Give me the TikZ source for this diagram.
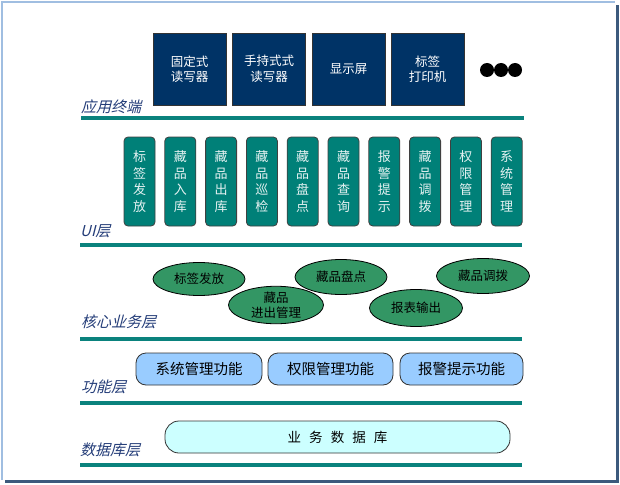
\documentclass[tikz,border=0pt]{standalone}
\usepackage{fontspec}
\setmainfont{Noto Sans CJK SC}
\newfontfamily\cjkit{Noto Sans CJK SC}[FakeSlant=0.25]
\usetikzlibrary{shapes.geometric}
\definecolor{navybox}{RGB}{0,51,102}
\definecolor{tealbox}{RGB}{0,128,120}
\definecolor{greenell}{RGB}{51,150,100}
\definecolor{funcblue}{RGB}{153,204,255}
\definecolor{dbcyan}{RGB}{204,255,255}
\definecolor{layerline}{RGB}{10,130,125}
\definecolor{labelcol}{RGB}{35,60,120}
\definecolor{framelight}{RGB}{160,190,225}
\definecolor{frameshadow}{RGB}{60,90,125}
\tikzset{
  termbox/.style={draw=black!80, line width=0.8pt, fill=navybox, text=white, minimum width=73pt, minimum height=72pt, inner sep=0pt, align=center, font=\fontsize{12.5}{15.5}\selectfont},
  uibox/.style={draw=black!75, line width=0.8pt, fill=tealbox, text=white!90!teal, rounded corners=4pt, minimum width=31pt, minimum height=89pt, inner sep=0pt, align=center, font=\fontsize{13}{16.5}\selectfont},
  coreell/.style={ellipse, draw=black, line width=0.8pt, fill=greenell, text=black, inner sep=0pt, align=center, font=\fontsize{12.5}{15}\selectfont},
  funcbox/.style={draw=black!80, line width=0.8pt, fill=funcblue, text=black, rounded corners=10pt, minimum height=32pt, inner sep=0pt, font=\fontsize{14.5}{16}\selectfont},
  dbbox/.style={draw=black!80, line width=0.8pt, fill=dbcyan, text=black, rounded corners=14pt, minimum width=345pt, minimum height=32pt, inner sep=0pt, font=\fontsize{13.5}{16}\selectfont},
  layerlbl/.style={anchor=west, text=labelcol, inner sep=0pt, font=\cjkit\fontsize{15}{16}\selectfont},
  layerrule/.style={draw=layerline, line width=3.2pt},
  dotmark/.style={circle, fill=black, minimum size=14pt, inner sep=0pt}
}
\begin{document}
\begin{tikzpicture}[x=1pt,y=-1pt]
\useasboundingbox (0,0) rectangle (620,484);
% frame
\fill[frameshadow] (5,5) rectangle (619,483);
\fill[white] (2,2) rectangle (616,480);
\draw[framelight, line width=2pt] (2,480) -- (2,2) -- (615,2);

% application terminals
\node[termbox] (t1) at (189.5,69) {固定式\\读写器};
\node[termbox] (t2) at (269,69) {手持式式\\读写器};
\node[termbox] (t3) at (348.5,69) {显示屏};
\node[termbox] (t4) at (427.5,69) {标签\\打印机};
\node[dotmark] (d1) at (487,70) {};
\node[dotmark] (d2) at (501,70) {};
\node[dotmark] (d3) at (515,70) {};
\node[layerlbl] (l1) at (81,107) {应用终端};
\coordinate (r1a) at (81,118); \coordinate (r1b) at (524,118);
\draw[layerrule] (r1a) -- (r1b);

% UI layer
\node[uibox] (u1) at (139.5,181.5) {标\\签\\发\\放};
\node[uibox] (u2) at (180.3,181.5) {藏\\品\\入\\库};
\node[uibox] (u3) at (221.1,181.5) {藏\\品\\出\\库};
\node[uibox] (u4) at (261.9,181.5) {藏\\品\\巡\\检};
\node[uibox] (u5) at (302.7,181.5) {藏\\品\\盘\\点};
\node[uibox] (u6) at (343.5,181.5) {藏\\品\\查\\询};
\node[uibox] (u7) at (384.3,181.5) {报\\警\\提\\示};
\node[uibox] (u8) at (425.1,181.5) {藏\\品\\调\\拨};
\node[uibox] (u9) at (465.9,181.5) {权\\限\\管\\理};
\node[uibox] (u10) at (506.7,181.5) {系\\统\\管\\理};
\node[layerlbl] (l2) at (80,231) {UI层};
\coordinate (r2a) at (80,245); \coordinate (r2b) at (522,245);
\draw[layerrule] (r2a) -- (r2b);

% core business layer
\node[coreell, minimum width=92pt, minimum height=33pt] (c1) at (199,279) {标签发放};
\node[coreell, minimum width=95pt, minimum height=35pt] (c2) at (276,305) {藏品\\进出管理};
\node[coreell, minimum width=92pt, minimum height=35pt] (c3) at (341,277) {藏品盘点};
\node[coreell, minimum width=93pt, minimum height=37pt] (c4) at (416,308) {报表输出};
\node[coreell, minimum width=93pt, minimum height=35pt] (c5) at (483,276) {藏品调拨};
\node[layerlbl] (l3) at (81,322) {核心业务层};
\coordinate (r3a) at (80,339); \coordinate (r3b) at (522,339);
\draw[layerrule] (r3a) -- (r3b);

% function layer
\node[funcbox, minimum width=126pt] (f1) at (199,369) {系统管理功能};
\node[funcbox, minimum width=125pt] (f2) at (330.5,369) {权限管理功能};
\node[funcbox, minimum width=123pt] (f3) at (461.5,369) {报警提示功能};
\node[layerlbl] (l4) at (81,387) {功能层};
\coordinate (r4a) at (80,403); \coordinate (r4b) at (522,403);
\draw[layerrule] (r4a) -- (r4b);

% database layer
\node[dbbox] (db) at (337.5,437) {业\hspace{0.6em}务\hspace{0.6em}数\hspace{0.6em}据\hspace{0.6em}库};
\node[layerlbl] (l5) at (80,450) {数据库层};
\coordinate (r5a) at (80,465); \coordinate (r5b) at (522,465);
\draw[layerrule] (r5a) -- (r5b);
\end{tikzpicture}
\end{document}
